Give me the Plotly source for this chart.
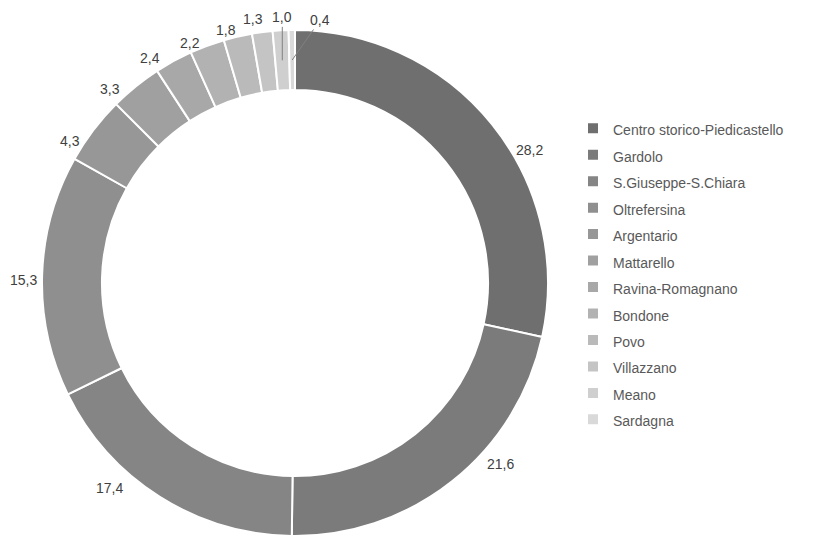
import math
import plotly.graph_objects as go

labels = ["Centro storico-Piedicastello", "Gardolo", "S.Giuseppe-S.Chiara", "Oltrefersina",
          "Argentario", "Mattarello", "Ravina-Romagnano", "Bondone", "Povo",
          "Villazzano", "Meano", "Sardagna"]
values = [28.2, 21.6, 17.4, 15.3, 4.3, 3.3, 2.4, 2.2, 1.8, 1.3, 1.0, 0.4]
colors = ["#6f6f6f", "#7b7b7b", "#858585", "#8f8f8f", "#979797", "#a0a0a0",
          "#a8a8a8", "#b2b2b2", "#bababa", "#c4c4c4", "#cfcfcf", "#d9d9d9"]

texts = [f"{v:.1f}".replace(".", ",") for v in values]
legend_labels = [f'<span style="font-size:14px">{l}</span>' for l in labels]

# label placement style: pixel offset of each value label from its slice's anchor
label_offsets = [(61, 7), (67, 6), (-66, 16), (-49, 3), (-47, -7), (-45, -21),
                 (-38, -29), (-28, -31), (-19, -36), (-13, -43), (0, -43), (28, -40)]
label_leader = [False] * 10 + [True, True]

W, H = 815, 535
OFF = 8                      # page body margin of the html page
cx, cy, R = 295 - OFF, 283 - OFF, 253   # figure-pixel centre and outer radius
HOLE = 0.763
FONT = "Liberation Sans, Arial, sans-serif"

fig = go.Figure(go.Pie(
    labels=legend_labels,
    values=values,
    textinfo="none",
    hole=HOLE,
    sort=False,
    direction="clockwise",
    rotation=0,
    marker=dict(colors=colors, line=dict(color="white", width=2)),
    domain=dict(x=[(cx - R) / W, (cx + R) / W],
                y=[max(0, (H - cy - R) / H), min(1, (H - cy + R) / H)]),
    showlegend=True,
))

# anchors at each slice's mid-angle, in the middle of the ring band
total = sum(values)
cum = 0
angles = []
for v in values:
    angles.append((cum + v / 2) / total * 2 * math.pi)
    cum += v
r_mid = R * (1 + HOLE) / 2

for k, a in enumerate(angles):
    px = cx + r_mid * math.sin(a)
    py = cy - r_mid * math.cos(a)
    dx, dy = label_offsets[k]
    common = dict(x=px / W, y=1 - py / H, xref="paper", yref="paper", text=texts[k],
                  font=dict(family=FONT, size=14, color="#404040"))
    if label_leader[k]:
        fig.add_annotation(**common, showarrow=True, ax=dx, ay=dy,
                           arrowhead=0, arrowwidth=1, arrowcolor="#808080", standoff=0)
    else:
        fig.add_annotation(**common, showarrow=False, xanchor="center", yanchor="middle",
                           xshift=dx, yshift=-dy)

fig.update_layout(
    width=W, height=H,
    margin=dict(l=0, r=0, t=0, b=0, autoexpand=False),
    paper_bgcolor="white",
    plot_bgcolor="white",
    font=dict(family=FONT, size=14, color="#404040"),
    legend=dict(
        x=(613 - 40 - OFF) / W, y=1 - (110 - OFF) / H, xanchor="left", yanchor="top",
        font=dict(size=18.05, color="#595959"),
        bgcolor="rgba(0,0,0,0)",
    ),
)

fig.write_html("out.html")
